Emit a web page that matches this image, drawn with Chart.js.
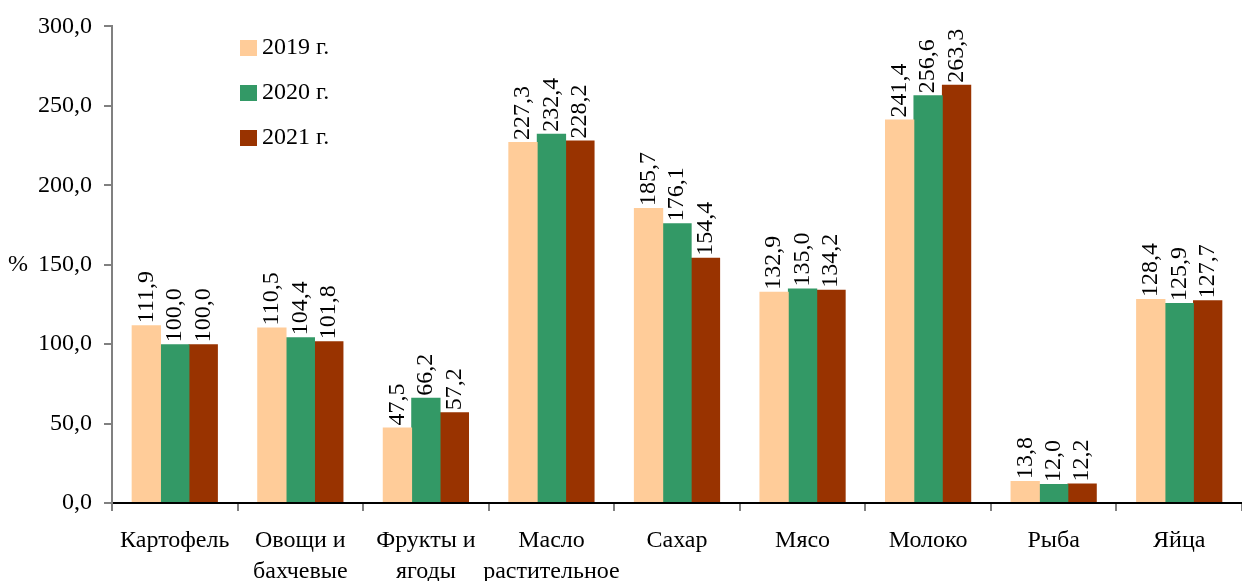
<!DOCTYPE html>
<html lang="ru">
<head>
<meta charset="utf-8">
<title>Продукты, %</title>
<script src="https://cdn.jsdelivr.net/npm/chart.js@4/dist/chart.umd.min.js"></script>
<style>
    html, body { margin: 0; padding: 0; background: #fff; }
    #wrap { width: 1242px; height: 581px; }
</style>
</head>
<body>
<div id="wrap"><canvas id="chart" width="1242" height="581"></canvas></div>
<script>
// Categories and series
const categories = [
    'Картофель',
    ['Овощи и', 'бахчевые'],
    ['Фрукты и', 'ягоды'],
    ['Масло', 'растительное'],
    'Сахар',
    'Мясо',
    'Молоко',
    'Рыба',
    'Яйца'
];
const years = ['2019 г.', '2020 г.', '2021 г.'];
const values2019 = [111.9, 110.5, 47.5, 227.3, 185.7, 132.9, 241.4, 13.8, 128.4];
const values2020 = [100.0, 104.4, 66.2, 232.4, 176.1, 135.0, 256.6, 12.0, 125.9];
const values2021 = [100.0, 101.8, 57.2, 228.2, 154.4, 134.2, 263.3, 12.2, 127.7];
const yTicks = [0, 50, 100, 150, 200, 250, 300];

const colors = ['#FFCC99', '#339966', '#993300'];
const FONT = '"Liberation Serif", "Times New Roman", serif';
const SIZE = 24;

const fmt = v => v.toFixed(1).replace('.', ',');

// Rotated value labels above each bar
const barLabels = {
    id: 'barLabels',
    afterDatasetsDraw(chart) {
        const ctx = chart.ctx;
        ctx.save();
        ctx.font = SIZE + 'px ' + FONT;
        ctx.fillStyle = '#000';
        ctx.textAlign = 'left';
        ctx.textBaseline = 'middle';
        chart.data.datasets.forEach((ds, i) => {
            chart.getDatasetMeta(i).data.forEach((bar, j) => {
                ctx.save();
                ctx.translate(bar.x, bar.y - 2);
                ctx.rotate(-Math.PI / 2);
                ctx.fillText(fmt(ds.data[j]), 0, 0);
                ctx.restore();
            });
        });
        ctx.restore();
    }
};

// Legend inside the plot area and the "%" axis mark
const extras = {
    id: 'extras',
    afterDraw(chart) {
        const ctx = chart.ctx;
        ctx.save();
        ctx.font = SIZE + 'px ' + FONT;
        ctx.fillStyle = '#000';
        ctx.textBaseline = 'middle';
        chart.data.datasets.forEach((ds, i) => {
            const y = 48 + i * 45;
            ctx.fillStyle = ds.backgroundColor;
            ctx.fillRect(240, y - 8, 17, 16);
            ctx.fillStyle = '#000';
            ctx.textAlign = 'left';
            ctx.fillText(ds.label, 262, y);
        });
        const yPct = chart.scales.y.getPixelForValue(150);
        ctx.textAlign = 'center';
        ctx.fillText('%', 18, yPct);
        ctx.restore();
    }
};

new Chart(document.getElementById('chart'), {
    type: 'bar',
    data: {
        labels: categories,
        datasets: [
            { label: years[0], data: values2019, backgroundColor: colors[0] },
            { label: years[1], data: values2020, backgroundColor: colors[1] },
            { label: years[2], data: values2021, backgroundColor: colors[2] }
        ]
    },
    options: {
        responsive: false,
        animation: false,
        layout: { padding: { top: 24, right: 0, left: 0, bottom: 0 } },
        datasets: {
            // slight overlap so neighbouring bars don't show a seam
            bar: { categoryPercentage: 0.68, barPercentage: 1.03, borderWidth: 0 }
        },
        plugins: {
            legend: { display: false },
            tooltip: { enabled: false }
        },
        scales: {
            x: {
                grid: {
                    display: true,
                    offset: true,
                    drawOnChartArea: false,
                    drawTicks: true,
                    tickLength: 8,
                    color: '#808080',
                    lineWidth: 2
                },
                border: { display: true, color: '#000', width: 2 },
                ticks: {
                    color: '#000',
                    font: { family: FONT, size: SIZE, lineHeight: 1.3 },
                    padding: 14,
                    maxRotation: 0,
                    autoSkip: false
                },
                afterFit(scale) { scale.height = 78; }
            },
            y: {
                min: 0,
                max: 300,
                afterBuildTicks(scale) {
                    scale.ticks = yTicks.map(v => ({ value: v }));
                },
                grid: {
                    display: true,
                    drawOnChartArea: false,
                    drawTicks: true,
                    tickLength: 8,
                    color: '#808080',
                    lineWidth: 2
                },
                border: { display: true, color: '#808080', width: 2 },
                ticks: {
                    color: '#000',
                    font: { family: FONT, size: SIZE },
                    padding: 12,
                    callback: v => fmt(v)
                },
                afterFit(scale) { scale.width = 112; }
            }
        }
    },
    plugins: [barLabels, extras]
});
</script>
</body>
</html>
